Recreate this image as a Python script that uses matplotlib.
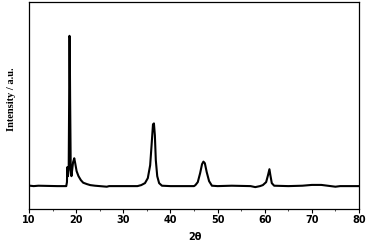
import matplotlib
matplotlib.use("Agg")
import matplotlib.pyplot as plt

# 2-theta positions (deg) and intensity (a.u.)
two_theta = [10.2, 11, 12, 14, 16, 17.5, 17.9, 18.05, 18.12, 18.25, 18.42, 18.52,
             18.58, 18.64, 18.72, 18.85, 19.0, 19.1, 19.35, 19.6, 19.8, 20.1, 20.5, 21.0,
             21.5, 22.3, 23, 24, 25, 26.5, 27, 30, 33, 33.8, 34.6, 35.2, 35.7,
             36.0, 36.3, 36.5, 36.7, 36.9, 37.2, 37.6, 38.2, 40, 43, 45, 45.3,
             45.8, 46.3, 46.7, 47.0, 47.3, 47.7, 48.2, 48.8, 50, 53, 55, 57, 58,
             59, 59.6, 60.3, 60.7, 61.0, 61.2, 61.5, 62.0, 65, 68, 70, 72, 74,
             75, 76, 80]
intensity = [117, 115, 117, 116, 115, 115, 115, 135, 210, 165, 195, 560,
             870, 860, 560, 205, 165, 185, 235, 255, 230, 190, 165, 145,
             132, 125, 120, 117, 115, 112, 115, 115, 115, 120, 130, 155, 220,
             320, 425, 430, 370, 245, 165, 130, 117, 115, 115, 115, 120,
             135, 180, 225, 238, 230, 185, 140, 117, 115, 117, 116, 115, 110,
             115, 120, 135, 170, 200, 170, 130, 117, 115, 117, 121, 121, 115,
             112, 115, 115]

xticks = [10, 20, 30, 40, 50, 60, 70, 80]

fig = plt.figure(figsize=(3.7, 2.5), dpi=100)
ax = fig.add_axes([29/370, 41/250, 330/370, 207/250])
ax.plot(two_theta, intensity, color="black", lw=1.5)
ax.set_xlim(10, 80)
ax.set_ylim(0, 1040)
ax.set_xticks(xticks)
ax.set_xticks(range(15, 80, 10), minor=True)
ax.set_yticks([])
ax.tick_params(axis="x", which="major", direction="out", length=3, width=0.8,
               pad=1.5, labelsize=7)
ax.tick_params(axis="x", which="minor", direction="out", length=1.5, width=0.5)
for lab in ax.get_xticklabels():
    lab.set_fontweight("bold")
    lab.set_family("DejaVu Sans")
for sp in ax.spines.values():
    sp.set_linewidth(0.9)

fig.text(12/370, 1 - 99/250, "Intensity / a.u.", rotation=90, ha="center",
         va="center", fontsize=7.5, fontweight="bold", family="Liberation Serif")
fig.text(195/370, 1 - 237/250, "2θ", ha="center", va="center", fontsize=7,
         fontweight="bold", family="DejaVu Sans")

fig.savefig("out.png", dpi=100)
